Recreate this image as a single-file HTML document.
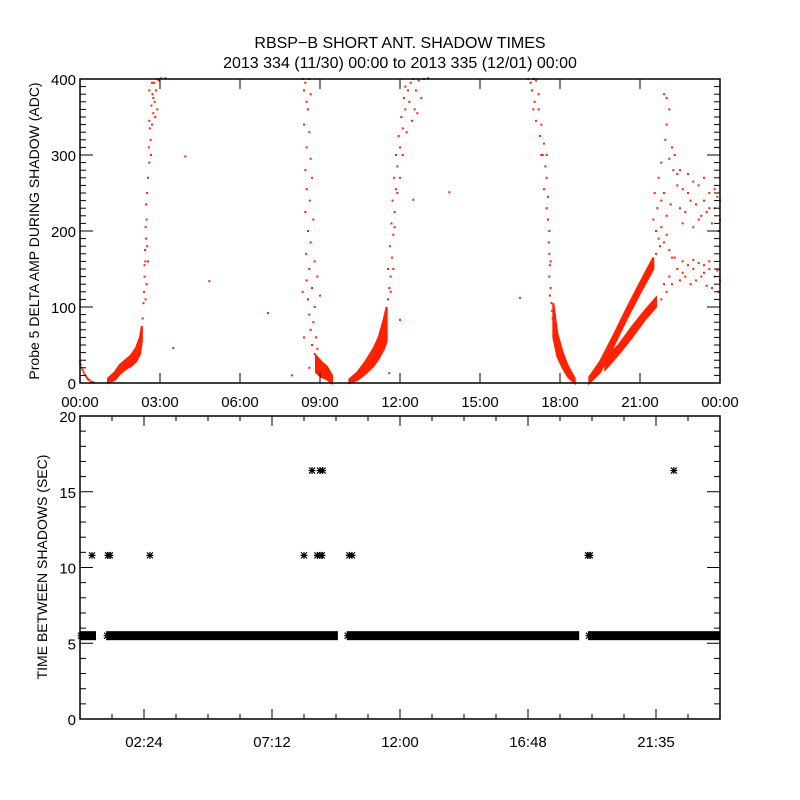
<!DOCTYPE html>
<html><head><meta charset="utf-8"><style>
html,body{margin:0;padding:0;background:#fff;}
svg{display:block;font-family:"Liberation Sans",sans-serif;}
</style></head><body>
<svg id="chart" width="800" height="800" viewBox="0 0 800 800">
<rect x="0" y="0" width="800" height="800" fill="#fff"/>
<text x="400" y="48" text-anchor="middle" font-size="16">RBSP−B SHORT ANT. SHADOW TIMES</text>
<text x="400" y="68" text-anchor="middle" font-size="16">2013 334 (11/30) 00:00 to 2013 335 (12/01) 00:00</text>
<g id="topPanel"></g>
<g id="botPanel"></g>
</svg>
<script>
// ---------- data: top panel (hour, ADC value) ----------
const topXTicks = ["00:00","03:00","06:00","09:00","12:00","15:00","18:00","21:00","00:00"];
const topYTicks = [0,100,200,300,400];
const ampBands = [
 [[1.05,0,6],[1.3,4,14],[1.5,12,24],[1.7,18,30],[1.9,22,36],[2.1,28,46],[2.25,38,60],[2.32,55,75]],
 [[8.85,14,36],[9.05,8,28],[9.25,5,22],[9.45,0,10]],
 [[10.1,0,5],[10.4,4,14],[10.7,12,28],[11.0,22,45],[11.2,32,60],[11.4,45,85],[11.5,55,100]],
 [[17.75,60,105],[17.9,35,65],[18.1,20,40],[18.3,8,22],[18.55,0,6]],
 [[19.1,0,8],[19.5,14,28],[20.0,48,62],[20.5,84,98],[21.0,118,132],[21.5,150,165]],
 [[19.7,18,32],[20.2,38,50],[20.7,60,74],[21.2,84,96],[21.6,100,112]]
];
const ampPoints = [
 0,28, 0.03,24, 0.06,20, 0.1,17, 0.14,14, 0.18,11, 0.22,9, 0.26,7, 0.3,5, 0.35,4, 0.4,2, 0.45,1, 0.5,1,
 2.35,85, 2.38,105, 2.4,120, 2.42,140, 2.45,160, 2.44,175, 2.48,190, 2.46,205, 2.5,215, 2.48,235, 2.52,250, 2.55,270, 2.6,290, 2.58,310, 2.65,320, 2.62,335, 2.7,340, 2.75,355, 2.68,365, 2.8,370, 2.72,380, 2.85,385, 2.78,395, 2.9,400, 2.95,398, 3.05,402, 3.2,402, 2.6,345, 2.66,300, 2.82,350, 2.9,360, 2.7,395, 2.55,160, 2.5,130, 2.42,155, 2.52,180, 2.46,110, 2.6,385, 2.75,375,
 3.95,298, 4.85,134, 3.5,46, 7.05,92, 7.95,10, 12.5,241, 13.85,251, 12.0,83, 16.5,112, 11.6,13,
 8.35,400, 8.45,395, 8.4,385, 8.5,370, 8.55,360, 8.4,340, 8.6,330, 8.5,310, 8.65,295, 8.45,280, 8.7,270, 8.5,255, 8.62,240, 8.45,225, 8.75,215, 8.55,200, 8.65,185, 8.48,170, 8.8,160, 8.6,150, 8.5,135, 8.7,125, 8.55,110, 8.8,100, 8.6,90, 8.75,80, 8.65,70, 8.85,60, 8.7,50, 8.9,45, 8.8,38, 8.6,20, 9.0,115, 8.4,60, 8.9,140, 8.35,120, 8.6,400, 8.65,380,
 11.55,110, 11.6,125, 11.65,140, 11.55,150, 11.7,165, 11.62,180, 11.75,195, 11.68,210, 11.8,225, 11.72,240, 11.85,255, 11.78,270, 11.9,285, 11.85,300, 12.0,310, 11.95,325, 12.1,335, 12.05,350, 12.2,360, 12.15,375, 12.3,385, 12.4,395, 12.5,400, 12.7,398, 12.9,400, 13.05,401, 12.6,385, 12.35,370, 12.55,360, 12.45,345, 12.25,330, 12.1,300, 12.0,270, 11.9,250, 11.8,205, 11.65,120, 11.75,150, 12.65,355, 12.8,375, 12.2,390,
 16.8,400, 16.9,395, 17.0,400, 17.1,398, 16.95,385, 17.05,370, 17.2,360, 17.1,345, 17.3,340, 17.25,325, 17.4,315, 17.35,300, 17.45,285, 17.5,270, 17.4,255, 17.55,245, 17.5,230, 17.55,215, 17.6,200, 17.58,185, 17.6,170, 17.62,155, 17.6,140, 17.65,125, 17.62,115, 17.68,105, 17.2,380, 17.5,300, 17.65,160, 17.7,95, 17.72,85, 17.0,360, 17.3,300,
 21.9,380, 22.0,375, 22.1,360, 22.0,340, 21.95,320, 22.2,310, 22.1,295, 22.3,300, 21.8,290, 22.25,280, 21.7,270, 22.4,275,
 22.4,260, 22.6,255, 22.8,250, 23.0,265, 23.2,260, 23.4,240, 23.6,250, 23.8,230, 24,215, 22.5,230, 22.7,225, 22.9,240, 23.1,235, 23.3,220, 23.5,225, 23.7,210, 23.9,245, 22.6,210, 23.0,205, 23.4,270, 23.2,215, 22.8,275, 22.5,280, 23.6,230, 23.8,255, 24,240, 23.95,200,
 21.6,200, 21.7,190, 21.8,205, 21.9,185, 22.0,195, 22.1,175, 21.6,170, 21.75,180, 22.2,165, 21.65,230, 21.8,240, 22.0,220, 21.9,250, 22.15,235, 21.5,215, 21.55,250,
 22.4,150, 22.6,160, 22.8,155, 23.0,150, 23.2,158, 23.4,145, 23.6,150, 23.8,140, 24,135, 22.5,135, 22.7,140, 22.9,130, 23.1,135, 23.3,140, 23.5,128, 23.7,125, 23.9,148, 22.6,145, 23.0,162, 23.4,155, 22.3,165, 22.1,140, 22.0,120, 21.9,130, 21.8,110, 22.2,130, 23.95,120, 23.6,160
];
// ---------- data: bottom panel ----------
const botXTicks = ["02:24","07:12","12:00","16:48","21:35"];
const botYTicks = [0,5,10,15,20];
const normalSegments = [[0,0.6],[0.98,9.67],[10.0,18.72],[19.05,24]];
const normalValue = 5.5;
const outlierHours = [0.45,1.05,1.12,2.62,8.4,8.9,9.0,9.07,10.1,10.2,19.05,19.12,8.7,9.0,9.1,22.27];
const outlierValues = [10.8,10.8,10.8,10.8,10.8,10.8,10.8,10.8,10.8,10.8,10.8,10.8,16.4,16.4,16.4,16.4];

const NS="http://www.w3.org/2000/svg";
function mk(parent,tag,attrs){const e=document.createElementNS(NS,tag);for(const k in attrs)e.setAttribute(k,attrs[k]);parent.appendChild(e);return e;}
const X0=80,X1=720;
const xH=h=>X0+h*(X1-X0)/24;
// top panel
const T0=383,T1=79;
const yT=v=>T0-v*(T0-T1)/400;
const topG=document.getElementById('topPanel');
ampBands.forEach((b)=>{
  const up=b.map(p=>xH(p[0])+','+yT(p[2])).join(' ');
  const lo=b.slice().reverse().map(p=>xH(p[0])+','+yT(p[1])).join(' ');
  const pg=mk(topG,'polygon',{points:up+' '+lo,fill:'#ff2200',stroke:'#ff2200','stroke-width':2});
  
  
});
for(let i=0;i<ampPoints.length;i+=2){
  const v=Math.min(ampPoints[i+1],401);
  const r=mk(topG,'rect',{x:xH(ampPoints[i])-1,y:yT(v)-1,width:2,height:2,fill:'#ff2200'});
  
  
}
const tf=mk(topG,'rect',{x:X0,y:T1,width:X1-X0,height:T0-T1,fill:'none',stroke:'#000','stroke-width':1.5});


for(let v=0;v<=400;v+=10){
  const L=(v%100===0)?13:6;
  mk(topG,'line',{x1:X0,x2:X0+L,y1:yT(v),y2:yT(v),stroke:'#000'});
  mk(topG,'line',{x1:X1,x2:X1-L,y1:yT(v),y2:yT(v),stroke:'#000'});
}
topYTicks.forEach(v=>{
  const t=mk(topG,'text',{x:76,y:yT(v)+6,'text-anchor':'end','font-size':15});
  t.textContent=v;
  
  
});
topXTicks.forEach((s,i)=>{
  const x=X0+i*80;
  mk(topG,'line',{x1:x,x2:x,y1:T0,y2:T0-10,stroke:'#000'});
  mk(topG,'line',{x1:x,x2:x,y1:T1,y2:T1+10,stroke:'#000'});
  const t=mk(topG,'text',{x:x,y:407,'text-anchor':'middle','font-size':15});
  t.textContent=s;
  
  
});
const ty=mk(topG,'text',{x:0,y:0,'text-anchor':'middle','font-size':14,transform:'translate(39,231) rotate(-90)'});
ty.textContent='Probe 5 DELTA AMP DURING SHADOW (ADC)';



// bottom panel
const B0=719,B1=416;
const yB=v=>B0-v*(B0-B1)/20;
const botG=document.getElementById('botPanel');
function star(g,cx,cy){
  return mk(g,'path',{d:`M${cx-3.5},${cy}H${cx+3.5}M${cx},${cy-3.5}V${cy+3.5}M${cx-3},${cy-3}L${cx+3},${cy+3}M${cx-3},${cy+3}L${cx+3},${cy-3}`,stroke:'#000','stroke-width':1.2,fill:'none'});
}
normalSegments.forEach(s=>{
  const r=mk(botG,'rect',{x:xH(s[0]),y:yB(normalValue)-4.5,width:xH(s[1])-xH(s[0]),height:9,fill:'#000'});
  
  
  const a=star(botG,xH(s[0])+1,yB(normalValue));
  
  
});
outlierHours.forEach((h,i)=>{
  const a=star(botG,xH(h),yB(outlierValues[i]));
  
  
});
const bf=mk(botG,'rect',{x:X0,y:B1,width:X1-X0,height:B0-B1,fill:'none',stroke:'#000','stroke-width':1.5});


for(let v=0;v<=20;v++){
  const L=(v%5===0)?13:6;
  mk(botG,'line',{x1:X0,x2:X0+L,y1:yB(v),y2:yB(v),stroke:'#000'});
  mk(botG,'line',{x1:X1,x2:X1-L,y1:yB(v),y2:yB(v),stroke:'#000'});
}
for(let i=1;i<20;i++){
  const x=X0+i*32, L=(i%4===2)?10:5;
  mk(botG,'line',{x1:x,x2:x,y1:B0,y2:B0-L,stroke:'#000'});
  mk(botG,'line',{x1:x,x2:x,y1:B1,y2:B1+L,stroke:'#000'});
}
botYTicks.forEach(v=>{
  const t=mk(botG,'text',{x:76,y:yB(v)+6,'text-anchor':'end','font-size':15});
  t.textContent=v;
  
  
});
botXTicks.forEach((s,i)=>{
  const t=mk(botG,'text',{x:144+i*128,y:747,'text-anchor':'middle','font-size':15});
  t.textContent=s;
  
  
});
const by=mk(botG,'text',{x:0,y:0,'text-anchor':'middle','font-size':14,transform:'translate(47,567) rotate(-90)'});
by.textContent='TIME BETWEEN SHADOWS (SEC)';


</script>
</body></html>
